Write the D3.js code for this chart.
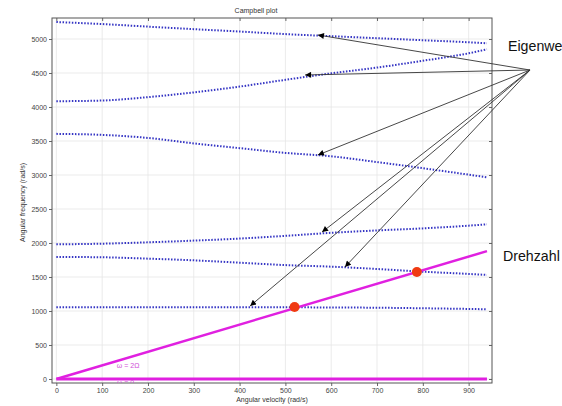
<!DOCTYPE html>
<html>
<head>
<meta charset="utf-8">
<title>Campbell plot</title>
<script src="https://d3js.org/d3.v7.min.js"></script>
<style>
  body { margin: 0; background: #fff; }
  .tick text { font-family: "Liberation Sans", Arial, sans-serif; font-size: 7px; fill: #444; }
  .note { font-family: "Liberation Sans", Arial, sans-serif; font-size: 14.2px; fill: #111; }
</style>
</head>
<body>
<svg class="chart"></svg>
<script>
// angular velocity samples (rad/s)
var omega = [0, 100, 200, 300, 400, 500, 600, 700, 800, 900, 940];
// eigenfrequency branches (rad/s)
var mode1 = [5250, 5220, 5182, 5145, 5110, 5072, 5042, 5012, 4982, 4952, 4937];
var mode2 = [4085, 4095, 4145, 4215, 4300, 4400, 4495, 4580, 4680, 4790, 4849];
var mode3 = [3605, 3590, 3545, 3465, 3395, 3325, 3275, 3190, 3100, 3005, 2966];
var mode4 = [1980, 1990, 2010, 2035, 2065, 2105, 2150, 2185, 2215, 2255, 2275];
var mode5 = [1795, 1790, 1770, 1745, 1710, 1675, 1652, 1618, 1578, 1545, 1530];
var mode6 = [1055, 1055, 1055, 1055, 1054, 1054, 1052, 1048, 1040, 1030, 1025];
var modes = [mode1, mode2, mode3, mode4, mode5, mode6];

// speed lines
var speedX = [0, 940];
var speed2 = [0, 1880];   // w = 2*Omega
var speed0 = [0, 0];
// critical speeds (intersection points)
var critX = [520, 787];
var critY = [1058, 1574];

// annotation arrows: start point and tips, in data units
var arrowFrom = [1034, 4544];
var arrowTipX = [571, 543, 571, 580, 630, 423];
var arrowTipY = [5059, 4471, 3294, 2160, 1647, 1074];

var xTicks = [0, 100, 200, 300, 400, 500, 600, 700, 800, 900];
var yTicks = [0, 500, 1000, 1500, 2000, 2500, 3000, 3500, 4000, 4500, 5000];

var svgWidth = 562, svgHeight = 406;
var margin = {top: 18, right: 70, bottom: 23, left: 52};
var width = svgWidth - margin.left - margin.right;
var height = svgHeight - margin.top - margin.bottom;

var x = d3.scaleLinear().domain([-9.5, 951]).range([0, width]);
var y = d3.scaleLinear().domain([-59, 5309]).range([height, 0]);

var svg = d3.select(".chart").attr("width", svgWidth).attr("height", svgHeight);
var defs = svg.append("defs");
defs.append("clipPath").attr("id", "plotclip")
    .append("rect").attr("width", width).attr("height", height);
defs.append("marker").attr("id", "head")
    .attr("viewBox", "0 0 10 10").attr("refX", 10).attr("refY", 5)
    .attr("markerWidth", 9).attr("markerHeight", 6)
    .attr("markerUnits", "userSpaceOnUse").attr("orient", "auto")
    .append("path").attr("d", "M0,0 L10,5 L0,10 z").attr("fill", "#000");

var chart = svg.append("g").attr("transform", "translate(" + margin.left + "," + margin.top + ")");

// grid
chart.append("g").selectAll("line").data(xTicks).enter().append("line")
    .attr("x1", d => x(d)).attr("x2", d => x(d)).attr("y1", 0).attr("y2", height)
    .attr("stroke", "#e6e6e6").attr("stroke-width", 0.8);
chart.append("g").selectAll("line").data(yTicks).enter().append("line")
    .attr("y1", d => y(d)).attr("y2", d => y(d)).attr("x1", 0).attr("x2", width)
    .attr("stroke", "#e6e6e6").attr("stroke-width", 0.8);

// axes
var fmt = d3.format("d");
var xAxis = chart.append("g").attr("transform", "translate(0," + height + ")")
    .call(d3.axisBottom(x).tickValues(xTicks).tickSize(3).tickPadding(2).tickFormat(fmt));
var yAxis = chart.append("g")
    .call(d3.axisLeft(y).tickValues(yTicks).tickSize(3).tickPadding(2).tickFormat(fmt));
var topAxis = chart.append("g")
    .call(d3.axisBottom(x).tickValues(xTicks).tickSize(3).tickFormat(""));
var rightAxis = chart.append("g").attr("transform", "translate(" + width + ",0)")
    .call(d3.axisLeft(y).tickValues(yTicks).tickSize(3).tickFormat(""));
[xAxis, yAxis, topAxis, rightAxis].forEach(function (a) {
    a.select(".domain").remove();
    a.selectAll(".tick line").attr("stroke", "#666");
});
chart.append("rect").attr("width", width).attr("height", height)
    .attr("fill", "none").attr("stroke", "#555").attr("stroke-width", 1);

var plot = chart.append("g").attr("clip-path", "url(#plotclip)");

// eigenfrequency curves
var line = d3.line().x((d, i) => x(omega[i])).y(d => y(d)).curve(d3.curveMonotoneX);
plot.selectAll(".mode").data(modes).enter().append("path")
    .attr("class", "mode")
    .attr("d", line)
    .attr("fill", "none")
    .attr("stroke", "#3535c4")
    .attr("stroke-width", 2)
    .attr("stroke-dasharray", "1.5,1.6");

// speed lines
var sline = d3.line().x((d, i) => x(speedX[i])).y(d => y(d));
plot.append("path").attr("d", sline(speed0))
    .attr("fill", "none").attr("stroke", "#e020e0").attr("stroke-width", 3);
plot.append("path").attr("d", sline(speed2))
    .attr("fill", "none").attr("stroke", "#e020e0").attr("stroke-width", 2.5);
plot.append("text").attr("x", x(132)).attr("y", y(160))
    .attr("font-family", "Liberation Sans, Arial, sans-serif").attr("font-size", 7)
    .attr("fill", "#d050d8").text("ω = 2Ω");
plot.append("text").attr("x", x(132)).attr("y", y(-95))
    .attr("font-family", "Liberation Sans, Arial, sans-serif").attr("font-size", 7)
    .attr("fill", "#d050d8").text("ω = 0");

// critical speed markers
plot.selectAll(".crit").data(critX).enter().append("circle")
    .attr("class", "crit")
    .attr("cx", d => x(d)).attr("cy", (d, i) => y(critY[i]))
    .attr("r", 5).attr("fill", "#f03a12");

// titles
chart.append("text").attr("x", 204).attr("y", -5).attr("text-anchor", "middle")
    .attr("font-family", "Liberation Sans, Arial, sans-serif").attr("font-size", 7)
    .attr("fill", "#333").text("Campbell plot");
chart.append("text").attr("x", width / 2).attr("y", height + 19).attr("text-anchor", "middle")
    .attr("font-family", "Liberation Sans, Arial, sans-serif").attr("font-size", 7)
    .attr("fill", "#333").text("Angular velocity (rad/s)");
chart.append("text").attr("transform", "translate(-27," + (height / 2 + 2) + ") rotate(-90)")
    .attr("text-anchor", "middle")
    .attr("font-family", "Liberation Sans, Arial, sans-serif").attr("font-size", 7)
    .attr("fill", "#333").text("Angular frequency (rad/s)");

// annotation arrows
chart.append("g").selectAll("line").data(arrowTipX).enter().append("line")
    .attr("x1", x(arrowFrom[0])).attr("y1", y(arrowFrom[1]))
    .attr("x2", d => x(d)).attr("y2", (d, i) => y(arrowTipY[i]))
    .attr("stroke", "#333").attr("stroke-width", 0.9)
    .attr("marker-end", "url(#head)");

svg.append("text").attr("class", "note").attr("x", 508).attr("y", 51).text("Eigenwerte");
svg.append("text").attr("class", "note").attr("x", 503).attr("y", 261).text("Drehzahl");
</script>
</body>
</html>
